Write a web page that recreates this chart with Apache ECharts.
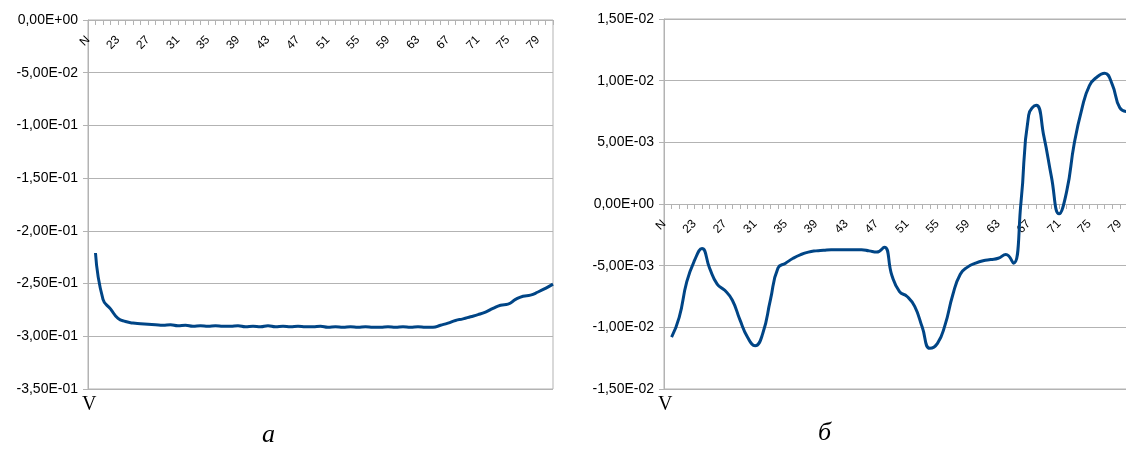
<!DOCTYPE html>
<html>
<head>
<meta charset="utf-8">
<script src="https://cdn.jsdelivr.net/npm/echarts@6/dist/echarts.min.js"></script>
<style>
    html, body { margin: 0; padding: 0; background: #fff; }
    #chart { width: 1126px; height: 450px; }
</style>
</head>
<body>
<div id="chart"></div>
<script>
    // категории по оси X (первая — "N")
    var categories = ['N', '20', '21', '22', '23', '24', '25', '26', '27', '28', '29', '30', '31', '32', '33', '34',
        '35', '36', '37', '38', '39', '40', '41', '42', '43', '44', '45', '46', '47', '48', '49', '50',
        '51', '52', '53', '54', '55', '56', '57', '58', '59', '60', '61', '62', '63', '64', '65', '66',
        '67', '68', '69', '70', '71', '72', '73', '74', '75', '76', '77', '78', '79', '80', '81'];

    // панель а
    var valuesA = [-0.221, -0.265, -0.274, -0.283, -0.286, -0.2875, -0.288, -0.2885, -0.289, -0.2895,
        -0.289, -0.290, -0.2895, -0.2905, -0.290, -0.2905, -0.290, -0.2905, -0.2905, -0.290,
        -0.291, -0.2905, -0.291, -0.290, -0.291, -0.2905, -0.291, -0.2905, -0.291, -0.291,
        -0.2905, -0.2915, -0.291, -0.2915, -0.291, -0.2915, -0.291, -0.2915, -0.2915, -0.291,
        -0.2915, -0.291, -0.2915, -0.291, -0.2915, -0.2915, -0.2895, -0.2875, -0.285, -0.2835,
        -0.2815, -0.2795, -0.277, -0.2735, -0.2705, -0.2695, -0.265, -0.262, -0.261, -0.258,
        -0.2545, -0.2505];

    // панель б
    var valuesB = [-0.0108, -0.0092, -0.0063, -0.0046, -0.0036, -0.0052, -0.0065, -0.0070, -0.0078, -0.0094,
        -0.0108, -0.0115, -0.0105, -0.0078, -0.0052, -0.0048, -0.0044, -0.0041, -0.0039, -0.0038,
        -0.00375, -0.0037, -0.0037, -0.0037, -0.0037, -0.0037, -0.0038, -0.0039, -0.0035, -0.0058,
        -0.0071, -0.0075, -0.0083, -0.0100, -0.0117, -0.0113, -0.0098, -0.0074, -0.0057, -0.0051,
        -0.0048, -0.0046, -0.0045, -0.0044, -0.0041, -0.0048, 0.0002, 0.0072, 0.0080, 0.0055,
        0.0022, -0.0008, 0.0010, 0.0049, 0.0077, 0.0096, 0.0103, 0.0106, 0.0097, 0.0078,
        0.0075, 0.0082];

    // подписи делений оси Y
    var yTicksA = ['-3,50E-01', '-3,00E-01', '-2,50E-01', '-2,00E-01', '-1,50E-01', '-1,00E-01', '-5,00E-02', '0,00E+00'];
    var yTicksB = ['-1,50E-02', '-1,00E-02', '-5,00E-03', '0,00E+00', '5,00E-03', '1,00E-02', '1,50E-02'];

    var gridColor = '#b3b3b3';
    var lineColor = '#004586';

    // ось X рисуем сверху и сдвигаем на линию нуля
    function xAxisOpt(idx, offset) {
        return {
            type: 'category',
            gridIndex: idx,
            position: 'top',
            offset: offset,
            data: categories,
            boundaryGap: false,
            axisLine: {onZero: false, lineStyle: {color: gridColor, width: 1}},
            axisTick: {show: true, inside: true, interval: 0, length: 5, lineStyle: {color: gridColor}},
            axisLabel: {
                inside: true,
                interval: 3,
                rotate: -45,
                margin: 18,
                fontSize: 12,
                color: '#000',
                fontFamily: 'Liberation Sans'
            },
            splitLine: {show: false}
        };
    }

    function yAxisOpt(idx, min, max, step, labels) {
        return {
            type: 'value',
            gridIndex: idx,
            min: min,
            max: max,
            interval: step,
            axisLine: {show: true, lineStyle: {color: gridColor, width: 1}},
            axisTick: {show: true, length: 5, lineStyle: {color: gridColor}},
            splitLine: {show: true, lineStyle: {color: gridColor, width: 1}},
            axisLabel: {
                margin: 10,
                fontSize: 14,
                color: '#000',
                fontFamily: 'Liberation Sans',
                formatter: function (v) {
                    return labels[Math.round((v - min) / step)];
                }
            }
        };
    }

    var myChart = echarts.init(document.getElementById('chart'));
    myChart.setOption({
        animation: false,
        backgroundColor: '#fff',
        grid: [
            {left: 88, top: 20, width: 465, height: 369, outerBoundsMode: 'none',
                show: true, borderColor: gridColor, borderWidth: 1},
            // правая панель обрезана краем картинки
            {left: 664, top: 19, width: 471, height: 370, outerBoundsMode: 'none',
                show: true, borderColor: gridColor, borderWidth: 1}
        ],
        xAxis: [xAxisOpt(0, 0), xAxisOpt(1, -185)],
        yAxis: [
            yAxisOpt(0, -0.35, 0, 0.05, yTicksA),
            yAxisOpt(1, -0.015, 0.015, 0.005, yTicksB)
        ],
        series: [
            {
                type: 'line',
                xAxisIndex: 0,
                yAxisIndex: 0,
                data: ['-'].concat(valuesA),
                smooth: true,
                showSymbol: false,
                lineStyle: {color: lineColor, width: 3},
                itemStyle: {color: lineColor}
            },
            {
                type: 'line',
                xAxisIndex: 1,
                yAxisIndex: 1,
                data: ['-'].concat(valuesB),
                smooth: true,
                showSymbol: false,
                lineStyle: {color: lineColor, width: 3},
                itemStyle: {color: lineColor}
            }
        ],
        graphic: [
            {type: 'text', left: 82, top: 395, style: {text: 'V', font: '20px "Liberation Serif"', fill: '#000'}},
            {type: 'text', left: 658, top: 395, style: {text: 'V', font: '20px "Liberation Serif"', fill: '#000'}},
            {type: 'text', left: 262, top: 422, style: {text: 'а', font: 'italic 26px "Liberation Serif"', fill: '#000'}},
            {type: 'text', left: 818, top: 420, style: {text: 'б', font: 'italic 26px "Liberation Serif"', fill: '#000'}}
        ]
    });
</script>
</body>
</html>
